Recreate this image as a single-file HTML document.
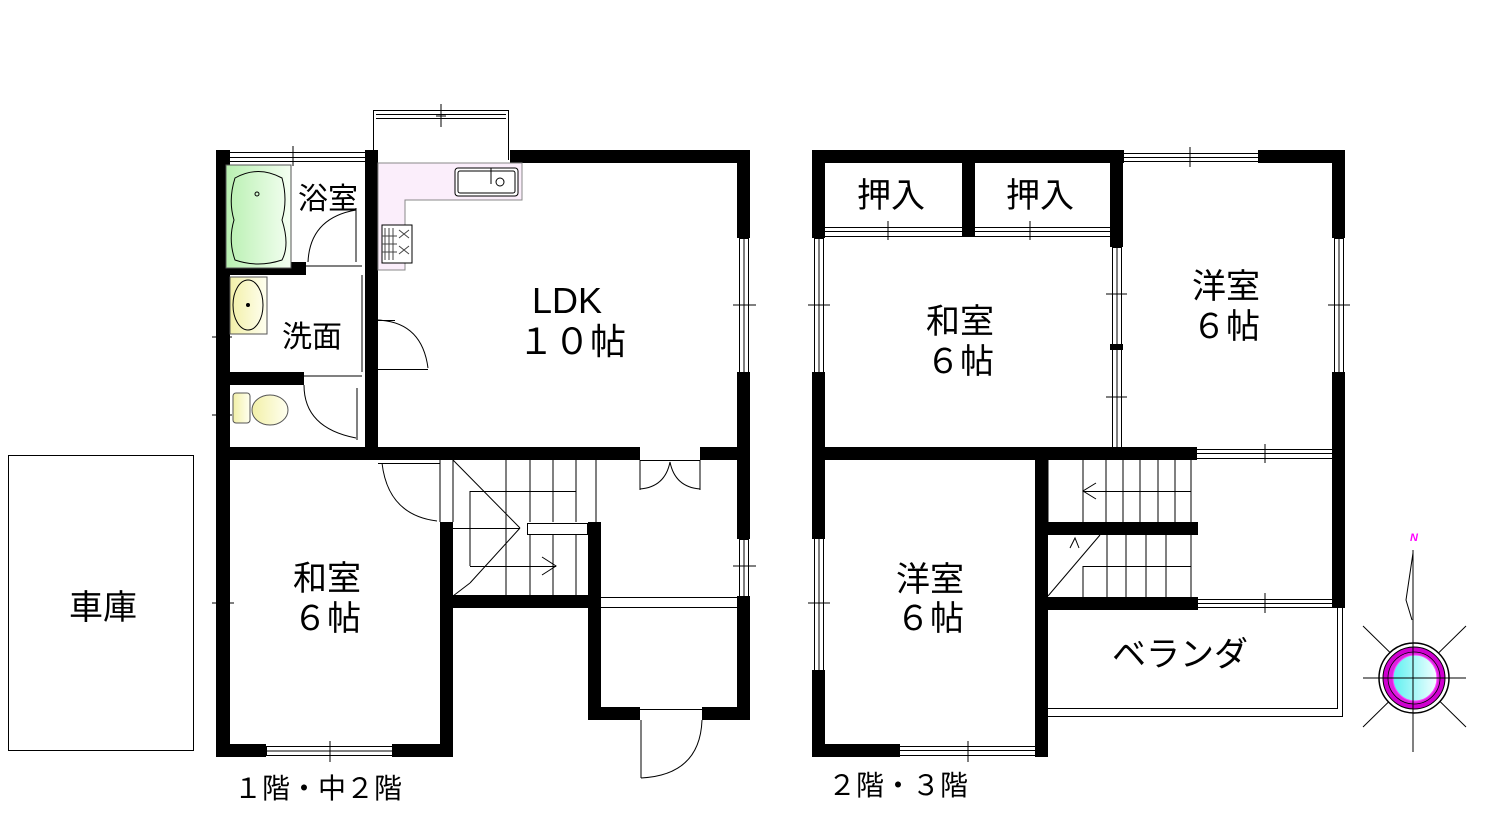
<!DOCTYPE html>
<html><head><meta charset="utf-8"><style>
html,body{margin:0;padding:0;background:#fff;width:1500px;height:840px;overflow:hidden}
svg text{font-family:"Liberation Sans","Noto Sans CJK JP",sans-serif;fill:#000}
</style></head><body>
<svg width="1500" height="840" viewBox="0 0 1500 840" xmlns="http://www.w3.org/2000/svg">
<defs>
<linearGradient id="gr" x1="0" x2="1"><stop offset="0" stop-color="#b8f0b0"/><stop offset="1" stop-color="#f4fff2"/></linearGradient>
<linearGradient id="yl" x1="0" x2="1"><stop offset="0" stop-color="#f2f0a8"/><stop offset="1" stop-color="#fffff0"/></linearGradient>
<linearGradient id="cy" x1="0" x2="1"><stop offset="0" stop-color="#5ff0f0"/><stop offset="1" stop-color="#f4ffff"/></linearGradient>
</defs>
<g fill="#000">
<!-- LEFT PLAN walls -->
<rect x="216" y="150" width="14" height="607"/>
<rect x="216" y="150" width="14" height="12"/>
<rect x="365" y="150" width="13" height="305"/>
<rect x="373" y="150" width="5" height="12"/>
<rect x="510" y="150" width="240" height="13"/>
<rect x="737" y="150" width="13" height="88"/>
<rect x="737" y="372" width="13" height="167"/>
<rect x="737" y="596" width="13" height="124"/>
<rect x="216" y="262" width="90" height="13"/>
<rect x="216" y="372" width="88" height="13"/>
<rect x="216" y="447" width="424" height="13"/>
<rect x="700" y="447" width="50" height="13"/>
<rect x="440" y="522" width="13" height="235"/>
<rect x="440" y="595" width="160" height="13"/>
<rect x="588" y="522" width="13" height="198"/>
<rect x="588" y="707" width="52" height="13"/>
<rect x="702" y="707" width="48" height="13"/>
<rect x="216" y="744" width="50" height="13"/>
<rect x="392" y="744" width="61" height="13"/>
<!-- RIGHT PLAN walls -->
<rect x="812" y="150" width="13" height="88"/>
<rect x="812" y="372" width="13" height="167"/>
<rect x="812" y="670" width="13" height="87"/>
<rect x="812" y="150" width="312" height="13"/>
<rect x="1258" y="150" width="87" height="13"/>
<rect x="1332" y="150" width="13" height="88"/>
<rect x="1332" y="372" width="13" height="236"/>
<rect x="962" y="150" width="13" height="87"/>
<rect x="1110" y="150" width="13" height="97"/>
<rect x="1110" y="344" width="13" height="6"/>
<rect x="812" y="447" width="385" height="13"/>
<rect x="1035" y="447" width="13" height="310"/>
<rect x="1048" y="522" width="150" height="13"/>
<rect x="1048" y="597" width="150" height="13"/>
<rect x="812" y="744" width="88" height="13"/>
</g>
<g fill="none" stroke="#000" stroke-width="1">
<!-- garage -->
<rect x="8.5" y="455.5" width="185" height="295"/>
<!-- kitchen bay -->
<polyline points="373.5,160 373.5,110.5 508.5,110.5 508.5,160"/>
<line x1="376" y1="114.5" x2="506" y2="114.5"/><line x1="376" y1="118.5" x2="506" y2="118.5"/>
<line x1="441" y1="104" x2="441" y2="127"/><line x1="436" y1="116" x2="446" y2="116"/>
<!-- bath top window -->
<line x1="230" y1="152.5" x2="365" y2="152.5"/><line x1="230" y1="157.5" x2="365" y2="157.5"/><line x1="230" y1="161.5" x2="365" y2="161.5"/>
<line x1="293" y1="146" x2="293" y2="166"/>
<!-- left windows -->
<rect x="218.5" y="312.5" width="9" height="51"/><line x1="223" y1="312" x2="223" y2="363"/><line x1="212" y1="337" x2="232" y2="337"/>
<rect x="218.5" y="398.5" width="9" height="32"/><line x1="223" y1="398" x2="223" y2="430"/><line x1="212" y1="415" x2="232" y2="415"/>
<rect x="218.5" y="537.5" width="9" height="133"/><line x1="223" y1="537" x2="223" y2="670"/><line x1="212" y1="603" x2="234" y2="603"/>
<rect x="266.5" y="746.5" width="126" height="9"/><line x1="266" y1="751" x2="392" y2="751"/><line x1="330" y1="741" x2="330" y2="762"/>
<!-- LDK right windows -->
<rect x="739.5" y="238.5" width="9" height="134"/><line x1="744" y1="238" x2="744" y2="372"/><line x1="733" y1="305" x2="756" y2="305"/>
<rect x="739.5" y="539.5" width="9" height="57"/><line x1="744" y1="539" x2="744" y2="596"/><line x1="733" y1="566" x2="756" y2="566"/>
<!-- kitchen counter -->
<polygon points="378,163 522,163 522,200 405,200 405,270 378,270" fill="#fbeefb" stroke="#888"/>
<rect x="455" y="168" width="63" height="28" rx="3" fill="#fff"/>
<rect x="458" y="171" width="57" height="22" rx="2"/>
<circle cx="500" cy="182" r="4"/><line x1="491" y1="168" x2="491" y2="184"/>
<rect x="382" y="225" width="30" height="38" fill="#fff"/>
<g stroke="#444"><line x1="385" y1="228" x2="385" y2="260"/><line x1="389" y1="228" x2="389" y2="260"/><line x1="393" y1="228" x2="393" y2="260"/><line x1="382" y1="236" x2="397" y2="236"/><line x1="382" y1="244" x2="397" y2="244"/><line x1="382" y1="252" x2="397" y2="252"/><path d="M399 230 l10 8 M409 230 l-10 8 M399 246 l10 8 M409 246 l-10 8"/></g>
<!-- bathtub -->
<rect x="226" y="165" width="65" height="103" fill="url(#gr)" stroke="#555"/>
<path d="M235 178 Q258 165 282 178 Q288 200 282 220 Q290 245 282 260 Q258 268 235 260 Q228 240 234 220 Q228 200 235 178 Z"/>
<circle cx="257" cy="194" r="2"/>
<!-- bath door -->
<path d="M308 262 Q310 218 356 210"/><line x1="356" y1="208" x2="356" y2="262"/><line x1="305" y1="266" x2="362" y2="266"/>
<!-- wash basin -->
<rect x="230" y="277" width="37" height="57" fill="url(#yl)" stroke="#555"/>
<ellipse cx="248" cy="305" rx="15" ry="25"/><circle cx="248" cy="305" r="1.5" fill="#000"/>
<!-- washroom door -->
<line x1="368" y1="320" x2="368" y2="370"/><line x1="378" y1="320.5" x2="395" y2="320.5"/>
<path d="M378 320 Q422 322 428 368"/><line x1="378" y1="369.5" x2="428" y2="369.5"/>
<!-- toilet -->
<rect x="233" y="393" width="17" height="30" rx="3" fill="url(#yl)" stroke="#555"/>
<ellipse cx="270" cy="410" rx="18" ry="15" fill="url(#yl)" stroke="#555"/>
<!-- toilet door -->
<line x1="304" y1="376" x2="362" y2="376"/><path d="M304 385 Q304 428 356 438"/><line x1="357" y1="388" x2="357" y2="440"/>
<!-- washroom/toilet right -->
<line x1="362" y1="275" x2="362" y2="372"/>
<!-- 和室 door -->
<line x1="378" y1="463.5" x2="440" y2="463.5"/><path d="M382 463 Q388 515 437 521"/>
<line x1="440" y1="460" x2="440" y2="522"/><line x1="453" y1="460" x2="453" y2="522"/>
<!-- stairs lower -->
<line x1="453" y1="460" x2="520" y2="528"/><line x1="520" y1="528" x2="470" y2="583"/><line x1="470" y1="583" x2="453" y2="596"/>
<line x1="470" y1="491" x2="470" y2="566"/><line x1="470" y1="491.5" x2="576" y2="491.5"/>
<line x1="453" y1="528.5" x2="520" y2="528.5"/><line x1="470" y1="566.5" x2="556" y2="566.5"/>
<path d="M542 557 l14 9 l-14 9"/>
<line x1="506" y1="460" x2="506" y2="595"/><line x1="530" y1="460" x2="530" y2="522"/><line x1="530" y1="535" x2="530" y2="595"/>
<line x1="553" y1="460" x2="553" y2="522"/><line x1="553" y1="535" x2="553" y2="595"/>
<line x1="576" y1="460" x2="576" y2="522"/><line x1="576" y1="535" x2="576" y2="595"/>
<line x1="596" y1="460" x2="596" y2="522"/>
<rect x="527.5" y="523.5" width="60" height="11"/>
<!-- closet doors -->
<line x1="640" y1="460.5" x2="700" y2="460.5"/><line x1="640" y1="460" x2="640" y2="490"/><line x1="700" y1="460" x2="700" y2="490"/>
<path d="M640 489 Q665 487 670 462 Q675 487 700 489"/>
<line x1="601" y1="597.5" x2="737" y2="597.5"/><line x1="601" y1="607.5" x2="737" y2="607.5"/>
<!-- entrance door -->
<line x1="640" y1="709.5" x2="702" y2="709.5"/><line x1="641" y1="720" x2="641" y2="778"/><path d="M641 778 Q700 775 702 720"/>
<!-- RIGHT PLAN -->
<line x1="1122" y1="153.5" x2="1258" y2="153.5"/><line x1="1122" y1="157.5" x2="1258" y2="157.5"/><line x1="1122" y1="161.5" x2="1258" y2="161.5"/><line x1="1190" y1="147" x2="1190" y2="167"/>
<line x1="825" y1="227.5" x2="962" y2="227.5"/><line x1="825" y1="231.5" x2="962" y2="231.5"/><line x1="825" y1="236.5" x2="962" y2="236.5"/><line x1="888" y1="221" x2="888" y2="240"/>
<line x1="975" y1="227.5" x2="1110" y2="227.5"/><line x1="975" y1="231.5" x2="1110" y2="231.5"/><line x1="975" y1="236.5" x2="1110" y2="236.5"/><line x1="1030" y1="221" x2="1030" y2="240"/>
<rect x="814.5" y="238.5" width="9" height="134"/><line x1="819" y1="238" x2="819" y2="372"/><line x1="808" y1="305" x2="830" y2="305"/>
<rect x="1112.5" y="247.5" width="9" height="200"/><line x1="1117" y1="247" x2="1117" y2="447"/><line x1="1106" y1="294" x2="1127" y2="294"/><line x1="1106" y1="397" x2="1127" y2="397"/>
<rect x="1334.5" y="238.5" width="9" height="134"/><line x1="1339" y1="238" x2="1339" y2="372"/><line x1="1328" y1="305" x2="1350" y2="305"/>
<line x1="1197" y1="449.5" x2="1332" y2="449.5"/><line x1="1197" y1="453.5" x2="1332" y2="453.5"/><line x1="1197" y1="458.5" x2="1332" y2="458.5"/><line x1="1265" y1="444" x2="1265" y2="463"/>
<rect x="814.5" y="537.5" width="9" height="133"/><line x1="819" y1="537" x2="819" y2="670"/><line x1="808" y1="603" x2="830" y2="603"/>
<line x1="900" y1="746.5" x2="1035" y2="746.5"/><line x1="900" y1="750.5" x2="1035" y2="750.5"/><line x1="900" y1="755.5" x2="1035" y2="755.5"/><line x1="968" y1="741" x2="968" y2="762"/>
<!-- upper stairs -->
<line x1="1048" y1="460" x2="1048" y2="522"/>
<line x1="1083" y1="460" x2="1083" y2="522"/><line x1="1106" y1="460" x2="1106" y2="522"/><line x1="1123" y1="460" x2="1123" y2="522"/><line x1="1140" y1="460" x2="1140" y2="522"/><line x1="1158" y1="460" x2="1158" y2="522"/><line x1="1175" y1="460" x2="1175" y2="522"/><line x1="1191" y1="460" x2="1191" y2="522"/>
<line x1="1083" y1="491.5" x2="1191" y2="491.5"/><path d="M1096 483 l-13 8 l13 8"/>
<line x1="1048" y1="596" x2="1100" y2="535"/><line x1="1083" y1="566.5" x2="1191" y2="566.5"/><line x1="1083" y1="566" x2="1083" y2="597"/>
<line x1="1107" y1="535" x2="1107" y2="597"/><line x1="1126" y1="535" x2="1126" y2="597"/><line x1="1146" y1="535" x2="1146" y2="597"/><line x1="1166" y1="535" x2="1166" y2="597"/><line x1="1191" y1="535" x2="1191" y2="597"/>
<path d="M1070 548 l5 -10 l4 10"/>
<line x1="1197" y1="599.5" x2="1332" y2="599.5"/><line x1="1197" y1="603.5" x2="1332" y2="603.5"/><line x1="1197" y1="607.5" x2="1332" y2="607.5"/><line x1="1265" y1="593" x2="1265" y2="613"/>
<!-- veranda -->
<polyline points="1048,708.5 1337.5,708.5 1337.5,608"/>
<polyline points="1048,716.5 1342.5,716.5 1342.5,608"/>
<!-- compass -->
<line x1="1413" y1="550" x2="1413" y2="752"/>
<line x1="1363" y1="678" x2="1466" y2="678"/>
<line x1="1363" y1="626" x2="1466" y2="727"/><line x1="1466" y1="626" x2="1363" y2="727"/>
<path d="M1413 553 L1406 600 L1412 620"/>
</g>
<ellipse cx="1414" cy="678" rx="35" ry="35" fill="#fff" stroke="#000" stroke-width="1.5"/>
<ellipse cx="1414" cy="678" rx="31" ry="31" fill="#d000d0" stroke="#000"/>
<ellipse cx="1414" cy="678" rx="26" ry="26" fill="#e020e0" stroke="#000" stroke-width="0.8"/>
<ellipse cx="1415" cy="678" rx="22" ry="23" fill="url(#cy)" stroke="#ff40ff"/>
<line x1="1377" y1="678" x2="1451" y2="678" stroke="#000"/><line x1="1413" y1="642" x2="1413" y2="714" stroke="#000"/>
<text x="1414" y="541" font-size="11" font-style="italic" font-weight="bold" text-anchor="middle" style="fill:#ff00ff">N</text>
<!-- labels -->
<g font-size="34" text-anchor="middle">
<text x="103" y="619">車庫</text>
<text x="567" y="313" font-size="36">LDK</text>
<text x="572" y="354" font-size="36">１０帖</text>
<text x="327" y="590">和室</text>
<text x="327" y="630">６帖</text>
<text x="328" y="209" font-size="30">浴室</text>
<text x="312" y="347" font-size="30">洗面</text>
<text x="891" y="207">押入</text>
<text x="1040" y="207">押入</text>
<text x="960" y="333">和室</text>
<text x="960" y="373">６帖</text>
<text x="1226" y="298">洋室</text>
<text x="1226" y="338">６帖</text>
<text x="930" y="591">洋室</text>
<text x="930" y="630">６帖</text>
<text x="1180" y="666">ベランダ</text>
<text x="318" y="798" font-size="28">１階・中２階</text>
<text x="898" y="795" font-size="28">２階・３階</text>
</g>
</svg>
</body></html>
